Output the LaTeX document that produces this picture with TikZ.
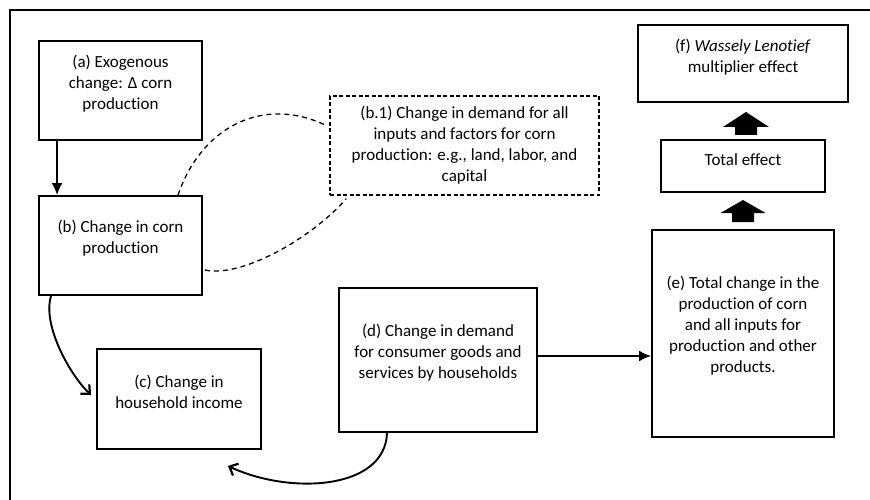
\documentclass[tikz,border=0pt]{standalone}
\usepackage{fontspec}
\setmainfont{Carlito}[Ligatures=NoCommon]
\usetikzlibrary{arrows.meta,calc}
\begin{document}
\begin{tikzpicture}[x=1pt,y=-1pt,
  box/.style={draw, line width=1.9pt, inner sep=0pt},
  dbox/.style={box, line width=1.7pt, dash pattern=on 4pt off 2.5pt},
  txt/.style={align=center, inner sep=0pt, font=\fontsize{17pt}{21pt}\selectfont},
  flow/.style={line width=1.8pt, -{Latex[length=12pt,width=11pt]}},
  curv/.style={line width=1.9pt, -{Straight Barb[length=7pt,width=13pt,line width=2.2pt]}},
  dsh/.style={line width=1.3pt, dash pattern=on 5pt off 4pt},
  blk/.style={fill=black}]
\fill[white] (0,0) rectangle (870,500);
\useasboundingbox (0,0) rectangle (870,500);
\begin{scope}
\clip (0,0) rectangle (870,500);
\draw[line width=2.2pt] (10,10) rectangle (890,520);
\end{scope}
% boxes
\node[box, minimum width=163pt, minimum height=99pt] (a) at (120.5,90.5) {};
\node[box, minimum width=163pt, minimum height=99pt] (b) at (120.5,245.5) {};
\node[dbox, minimum width=269pt, minimum height=99pt] (b1) at (464.5,145.5) {};
\node[box, minimum width=164pt, minimum height=100pt] (c) at (179,399) {};
\node[box, minimum width=198pt, minimum height=144pt] (d) at (438,360) {};
\node[box, minimum width=182pt, minimum height=207pt] (e) at (743,333.5) {};
\node[box, minimum width=210pt, minimum height=77pt] (f) at (743,63.5) {};
\node[box, minimum width=164pt, minimum height=52pt] (tot) at (743,166) {};
% texts
\node[txt, yshift=7pt] (ta) at (a.center) {(a) Exogenous\\change: Δ corn\\production};
\node[txt, yshift=7pt] (tb) at (b.center) {(b) Change in corn\\production};
\node[txt] (tb1) at (b1.center) {(b.1) Change in demand for all\\inputs and factors for corn\\production: e.g., land, labor, and\\capital};
\node[txt, yshift=7pt] (tc) at (c.center) {(c) Change in\\household income};
\node[txt, yshift=7pt] (td) at (d.center) {(d) Change in demand\\for consumer goods and\\services by households};
\node[txt, yshift=8pt] (te) at (e.center) {(e) Total change in the\\production of corn\\and all inputs for\\production and other\\products.};
\node[txt, yshift=6pt] (tf) at (f.center) {(f) \textit{Wassely Lenotief}\\multiplier effect};
\node[txt, yshift=6pt] (tt) at (tot.center) {Total effect};
% straight arrows
\draw[flow] ($(a.south west)+(19,0)$) -- ($(b.north west)+(19,0)$);
\draw[flow] ($(d.east)+(0,-4)$) -- ($(e.west |- d.east)+(0,-4)$);
% curved arrows
\draw[curv] ($(b.south west)+(13,0)$) .. controls (42,325) and (70,375) .. ($(c.west)+(-5,-4)$);
\draw[curv] ($(d.south west)+(49,0)$) .. controls (385,490) and (290,495) .. ($(c.south east)+(-34,16)$);
% dashed links
\draw[dsh] ($(b.north west)+(140,0)$) .. controls (200,130) and (260,95) .. ($(b1.west)+(-5,-21)$);
\draw[dsh] ($(b.east)+(2,24.5)$) .. controls (240,278) and (310,240) .. ($(b1.south west)+(17,3)$);
% block arrows
\fill[blk] (746,112) -- (769,127) -- (757,127) -- (757,135) -- (735,135) -- (735,127) -- (723,127) -- cycle;
\fill[blk] (743,200) -- (765.5,213) -- (754,213) -- (754,222) -- (732,222) -- (732,213) -- (720.5,213) -- cycle;
\end{tikzpicture}
\end{document}
